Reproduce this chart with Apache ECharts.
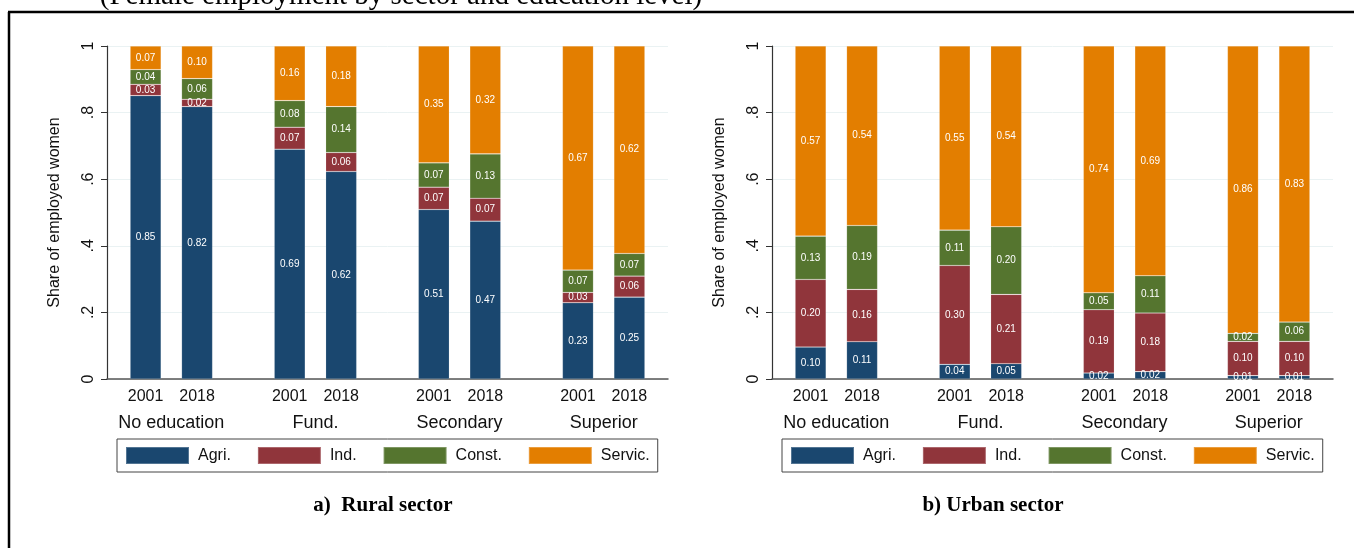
<!DOCTYPE html>
<html>
<head>
<meta charset="utf-8">
<script src="https://cdn.jsdelivr.net/npm/echarts@6/dist/echarts.min.js"></script>
<style>
html,body{margin:0;padding:0;background:#fff;}
#chart{width:1354px;height:548px;}
</style>
</head>
<body>
<div id="chart"></div>
<script>
// ---------------- data ----------------
const categories = ['No education', 'Fund.', 'Secondary', 'Superior'];
const years = ['2001', '2018'];
const sectors = ['Agri.', 'Ind.', 'Const.', 'Servic.'];
const yTicks = ['0', '.2', '.4', '.6', '.8', '1'];

// order: NoEd 2001, NoEd 2018, Fund 2001, Fund 2018, Sec 2001, Sec 2018, Sup 2001, Sup 2018
const ruralAgri  = [0.851, 0.818, 0.690, 0.623, 0.509, 0.474, 0.229, 0.246];
const ruralInd   = [0.034, 0.022, 0.066, 0.057, 0.067, 0.069, 0.031, 0.063];
const ruralConst = [0.044, 0.062, 0.080, 0.138, 0.073, 0.133, 0.067, 0.068];
const ruralServ  = [0.071, 0.098, 0.164, 0.182, 0.351, 0.324, 0.673, 0.623];

const urbanAgri  = [0.096, 0.112, 0.044, 0.046, 0.018, 0.022, 0.010, 0.010];
const urbanInd   = [0.203, 0.157, 0.297, 0.208, 0.190, 0.176, 0.103, 0.103];
const urbanConst = [0.130, 0.192, 0.106, 0.203, 0.051, 0.112, 0.024, 0.058];
const urbanServ  = [0.571, 0.539, 0.553, 0.543, 0.741, 0.690, 0.863, 0.829];

// ---------------- layout / style ----------------
const colors = ['#1a476f', '#90353b', '#55752f', '#e37e00'];
// fine category slots used to reproduce Stata's bar spacing
const EDGE_SLOTS = 7, YEAR_SLOTS = 10, GROUP_SLOTS = 28;
const TOTAL_SLOTS = 2 * EDGE_SLOTS + (categories.length - 1) * GROUP_SLOTS + (years.length - 1) * YEAR_SLOTS + 1;
const FONT = '"Liberation Sans", Arial, sans-serif';
const SERIF = '"Liberation Serif", "Times New Roman", serif';

const barSlot = [];
categories.forEach((c, g) => years.forEach((y, j) => barSlot.push(EDGE_SLOTS + g * GROUP_SLOTS + j * YEAR_SLOTS)));
const yearLabels = new Array(TOTAL_SLOTS).fill('');
barSlot.forEach((s, i) => { yearLabels[s] = years[i % years.length]; });
const groupLabels = new Array(TOTAL_SLOTS).fill('');
categories.forEach((c, g) => { groupLabels[EDGE_SLOTS + g * GROUP_SLOTS + YEAR_SLOTS / 2] = c; });
const slotIds = yearLabels.map((v, i) => 's' + i);

const grids = [
  { left: 107, top: 46, width: 561, height: 333 },
  { left: 772, top: 46, width: 561, height: 333 }
];

function xAxesFor(gi) {
  return [
    {
      type: 'category', gridIndex: gi, data: slotIds, position: 'bottom', boundaryGap: true,
      splitLine: { show: false },
      axisLine: { show: true, lineStyle: { color: '#555', width: 1.5 } },
      axisTick: { show: false },
      axisLabel: {
        show: true, interval: 0, margin: 10,
        fontFamily: FONT, fontSize: 16, color: '#111',
        formatter: (v, i) => yearLabels[i]
      }
    },
    {
      type: 'category', gridIndex: gi, data: slotIds, position: 'bottom', boundaryGap: true,
      splitLine: { show: false },
      axisLine: { show: false },
      axisTick: { show: false },
      axisLabel: {
        show: true, interval: 0, margin: 35,
        fontFamily: FONT, fontSize: 18, color: '#111',
        formatter: (v, i) => groupLabels[i]
      }
    }
  ];
}

function yAxisFor(gi) {
  return {
    type: 'value', gridIndex: gi, min: 0, max: 1, interval: 0.2,
    name: 'Share of employed women', nameLocation: 'middle', nameGap: 44,
    nameTextStyle: { fontFamily: FONT, fontSize: 16, color: '#111' },
    axisLine: { show: true, onZero: false, lineStyle: { color: '#333', width: 1.2 } },
    axisTick: { show: true, length: 6, lineStyle: { color: '#333' } },
    axisLabel: {
      rotate: 90, margin: 10, fontFamily: FONT, fontSize: 16, color: '#111',
      formatter: v => yTicks[Math.round(v / 0.2)]
    },
    splitLine: { show: true, lineStyle: { color: '#eaf2f3', width: 1 } }
  };
}

function seriesFor(gi, arrays, stackName) {
  return arrays.map((arr, k) => {
    const data = new Array(TOTAL_SLOTS).fill('-');
    arr.forEach((v, i) => { data[barSlot[i]] = v; });
    return {
      name: sectors[k],
      type: 'bar',
      xAxisIndex: gi * 2,
      yAxisIndex: gi,
      stack: stackName,
      barWidth: 31,
      data: data,
      itemStyle: { color: colors[k], borderColor: 'rgba(255,255,255,0.25)', borderWidth: 0.6 },
      label: {
        show: true, position: 'inside', color: '#fff',
        fontFamily: FONT, fontSize: 10,
        formatter: p => Number(p.value).toFixed(2)
      },
      emphasis: { disabled: true },
      animation: false
    };
  });
}

function legendFor(left) {
  return {
    left: left, top: 439,
    data: sectors,
    icon: 'rect',
    itemWidth: 63, itemHeight: 17, itemGap: 26,
    selectedMode: false,
    borderColor: '#444', borderWidth: 1,
    padding: [7, 8, 7, 8],
    textStyle: { fontFamily: FONT, fontSize: 16, color: '#111', padding: [0, 0, 0, 4], lineHeight: 17 }
  };
}

const chart = echarts.init(document.getElementById('chart'), null, { renderer: 'canvas' });
chart.setOption({
  backgroundColor: '#fff',
  animation: false,
  color: colors,
  grid: grids,
  xAxis: xAxesFor(0).concat(xAxesFor(1)),
  yAxis: [yAxisFor(0), yAxisFor(1)],
  legend: [legendFor(117), legendFor(782)],
  series: seriesFor(0, [ruralAgri, ruralInd, ruralConst, ruralServ], 'rural')
    .concat(seriesFor(1, [urbanAgri, urbanInd, urbanConst, urbanServ], 'urban')),
  graphic: [
    { type: 'text', x: 401, y: -4, silent: true,
      style: { text: '(Female employment by sector and education level)', textAlign: 'center', textVerticalAlign: 'middle',
        font: 'normal 29px ' + SERIF, fill: '#000' } },
    { type: 'line', silent: true, shape: { x1: 8, y1: 12, x2: 1354, y2: 12 }, style: { stroke: '#000', lineWidth: 2.5 } },
    { type: 'line', silent: true, shape: { x1: 9, y1: 12, x2: 9, y2: 548 }, style: { stroke: '#000', lineWidth: 2.5 } },
    { type: 'text', x: 383, y: 506, silent: true,
      style: { text: 'a)  Rural sector', textAlign: 'center', textVerticalAlign: 'middle',
        font: 'bold 21px ' + SERIF, fill: '#000' } },
    { type: 'text', x: 993, y: 506, silent: true,
      style: { text: 'b) Urban sector', textAlign: 'center', textVerticalAlign: 'middle',
        font: 'bold 21px ' + SERIF, fill: '#000' } }
  ]
});
</script>
</body>
</html>
